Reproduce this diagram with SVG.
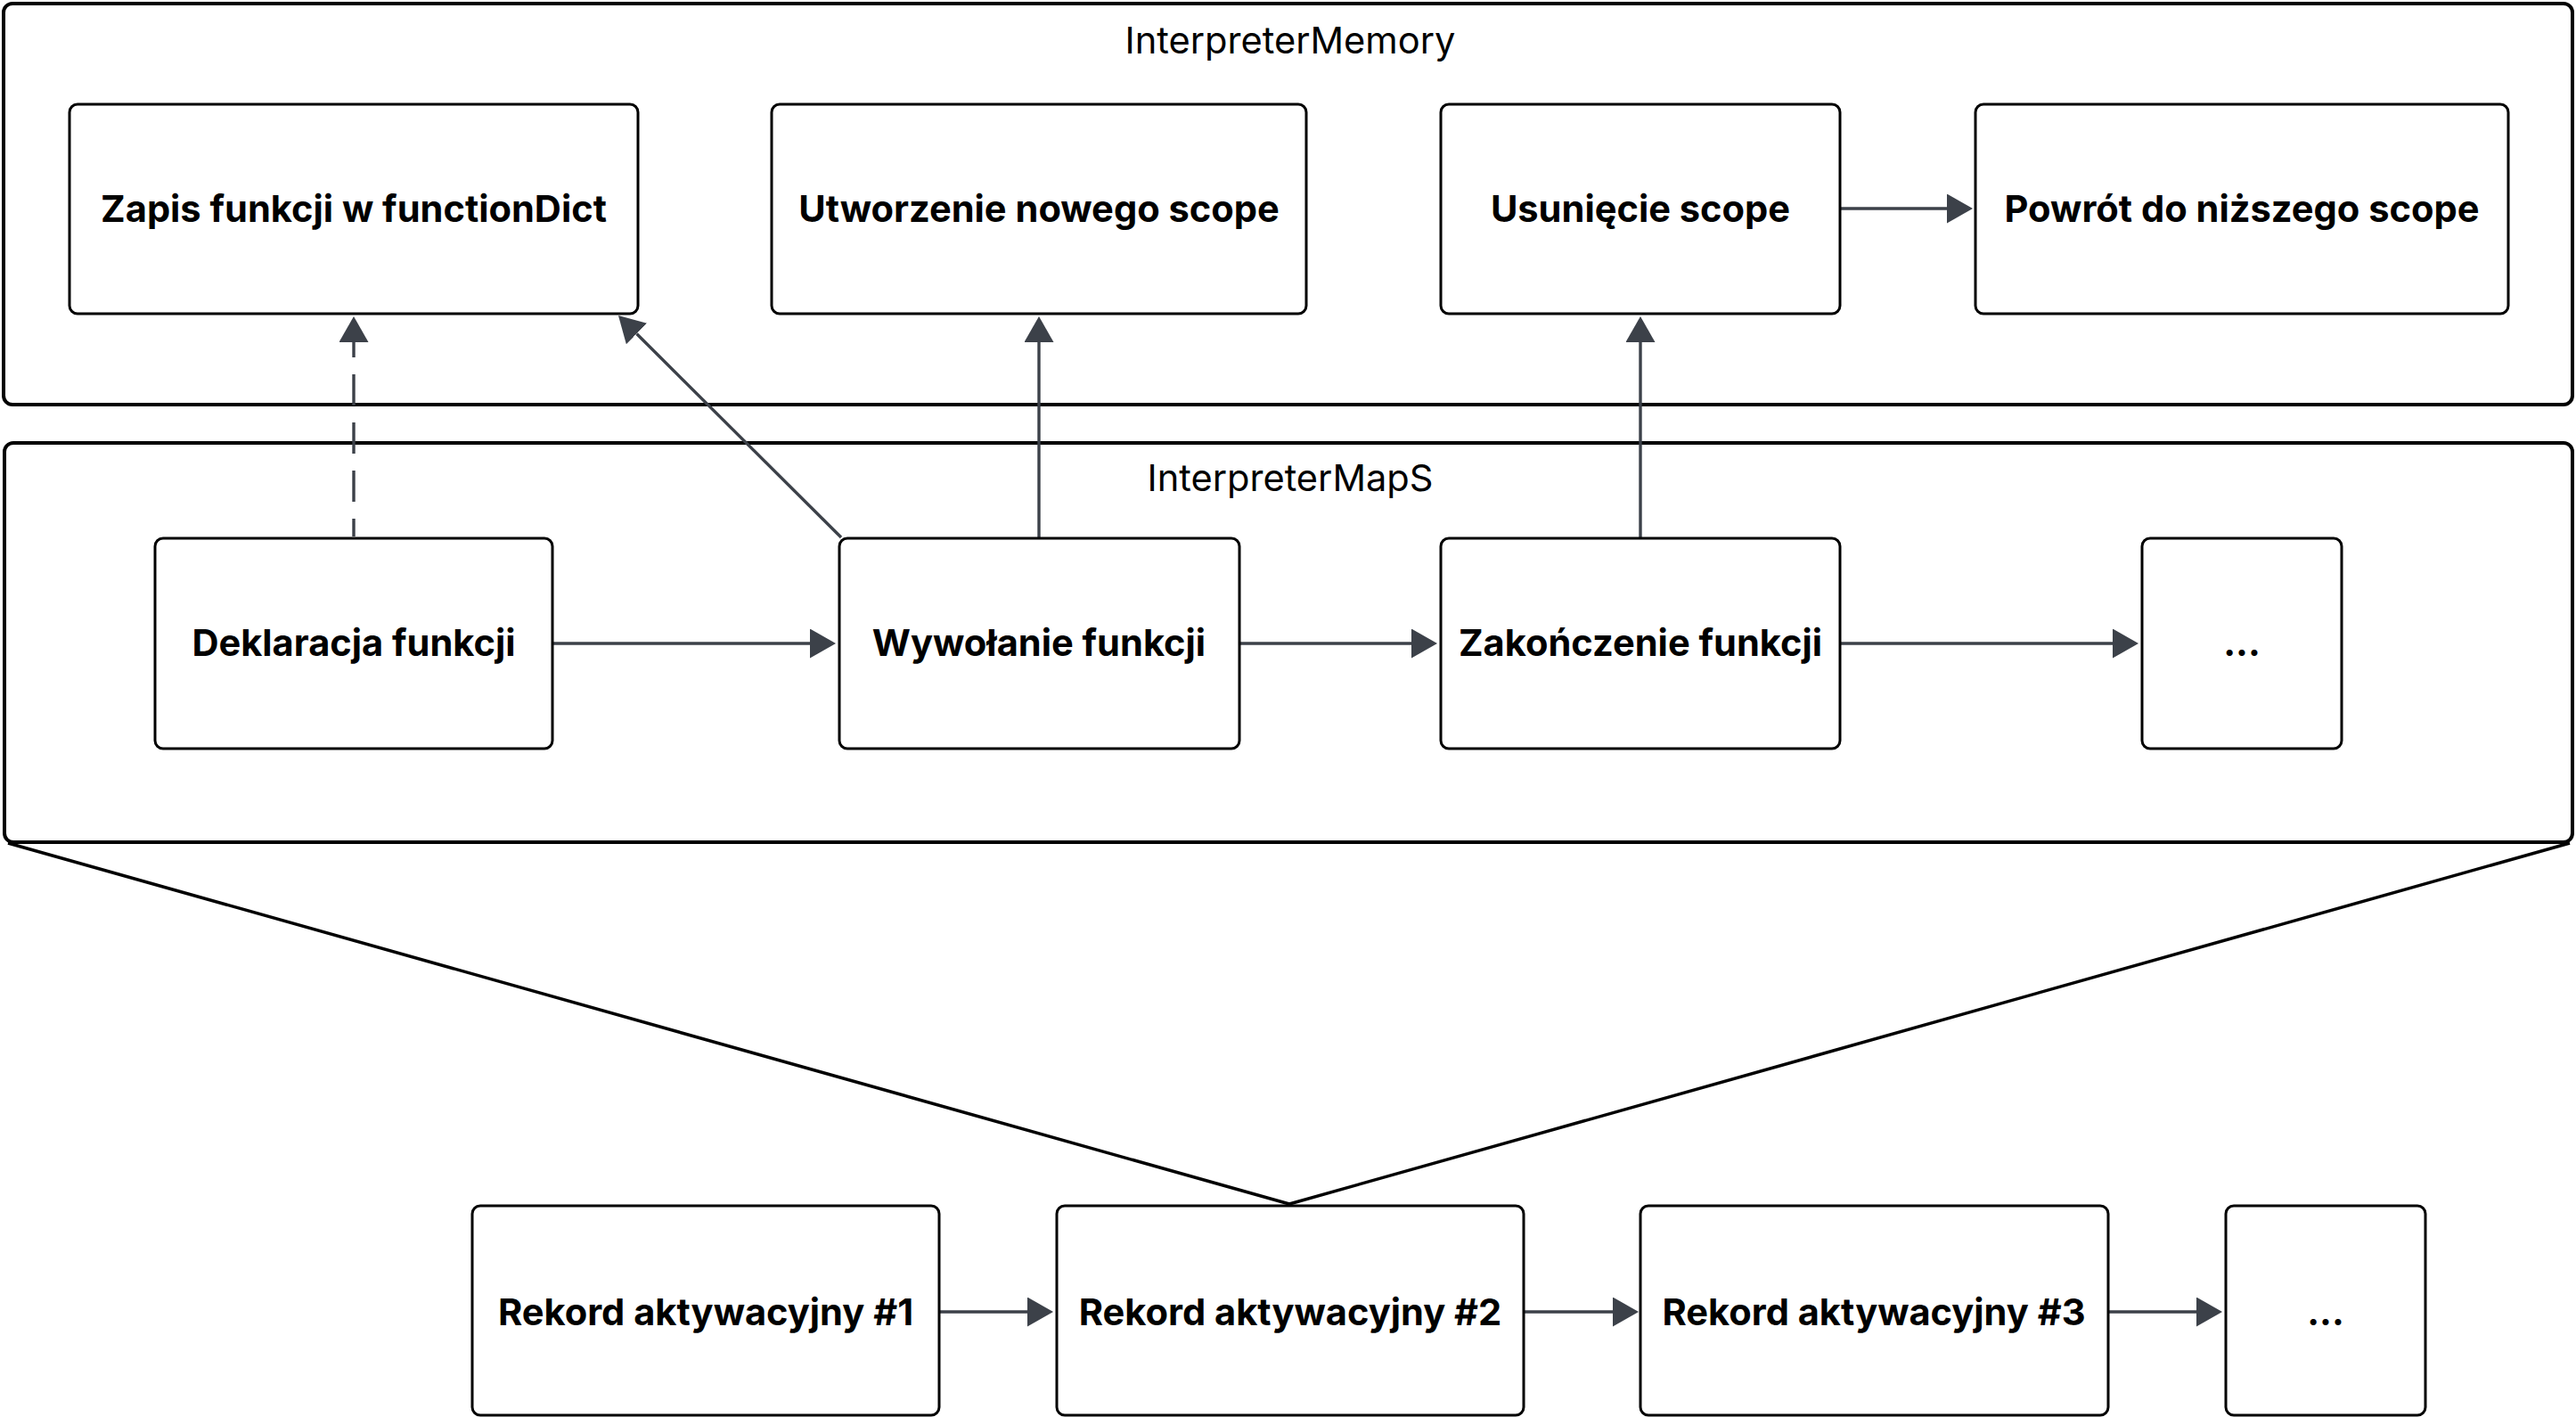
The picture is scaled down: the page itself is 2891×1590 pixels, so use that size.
<svg xmlns="http://www.w3.org/2000/svg" width="2891" height="1590" viewBox="0 0 2891 1590">
<style>
.bg{fill:#ffffff}
.container{fill:none;stroke:#000;stroke-width:4}
.node rect{fill:#fff;stroke:#000;stroke-width:3}
.node text{font-family:Inter,"Liberation Sans",sans-serif;font-weight:700;font-size:41.6px;fill:#000;text-anchor:middle}
.clabel{font-family:Inter,"Liberation Sans",sans-serif;font-weight:400;font-size:41.6px;fill:#000;text-anchor:middle}
.edge{fill:none;stroke:#3c4149;stroke-width:3.4}
.dashed{stroke-dasharray:35 19;stroke-dashoffset:15}
.fan{fill:none;stroke:#000;stroke-width:3.5;stroke-linejoin:round}
</style>
<defs>
<marker id="arr" markerUnits="userSpaceOnUse" markerWidth="30" markerHeight="34" refX="0" refY="16.5" orient="auto" viewBox="0 0 30 34">
<path d="M0,0 L29,16.5 L0,33 Z" fill="#3c4149"/>
</marker>
</defs>
<rect class="bg" x="0" y="0" width="2891" height="1590"/>

<g id="InterpreterMemory">
<rect class="container" x="4" y="4" width="2883" height="450" rx="10"/>
<text class="clabel" x="1448" y="60">InterpreterMemory</text>
</g>
<g id="InterpreterMapS">
<rect class="container" x="5" y="497" width="2882" height="448" rx="10"/>
<text class="clabel" x="1448" y="551">InterpreterMapS</text>
</g>

<g id="connectors">
<path class="edge dashed" d="M397,602 L397,384" marker-end="url(#arr)"/>
<path class="edge" d="M944,603 L714.5,374.5" marker-end="url(#arr)"/>
<path class="edge" d="M1166,604 L1166,384" marker-end="url(#arr)"/>
<path class="edge" d="M1841,604 L1841,384" marker-end="url(#arr)"/>
<path class="edge" d="M2065,234 L2185,234" marker-end="url(#arr)"/>
<path class="edge" d="M620,722 L909,722" marker-end="url(#arr)"/>
<path class="edge" d="M1391,722 L1584,722" marker-end="url(#arr)"/>
<path class="edge" d="M2065,722 L2371,722" marker-end="url(#arr)"/>
<path class="edge" d="M1054,1472 L1153,1472" marker-end="url(#arr)"/>
<path class="edge" d="M1710,1472 L1810,1472" marker-end="url(#arr)"/>
<path class="edge" d="M2366,1472 L2465,1472" marker-end="url(#arr)"/>
<path class="fan" d="M9,946 L1447,1351 L2884,946"/>
</g>

<g id="zapis" class="node"><rect x="78" y="117" width="638" height="235" rx="9"/><text x="397" y="249">Zapis funkcji w functionDict</text></g>
<g id="utworzenie" class="node"><rect x="866" y="117" width="600" height="235" rx="9"/><text x="1166" y="249">Utworzenie nowego scope</text></g>
<g id="usuniecie" class="node"><rect x="1617" y="117" width="448" height="235" rx="9"/><text x="1841" y="249">Usunięcie scope</text></g>
<g id="powrot" class="node"><rect x="2217" y="117" width="598" height="235" rx="9"/><text x="2516" y="249">Powrót do niższego scope</text></g>

<g id="deklaracja" class="node"><rect x="174" y="604" width="446" height="236" rx="9"/><text x="397" y="736">Deklaracja funkcji</text></g>
<g id="wywolanie" class="node"><rect x="942" y="604" width="449" height="236" rx="9"/><text x="1166" y="736">Wywołanie funkcji</text></g>
<g id="zakonczenie" class="node"><rect x="1617" y="604" width="448" height="236" rx="9"/><text x="1841" y="736">Zakończenie funkcji</text></g>
<g id="dots1" class="node"><rect x="2404" y="604" width="224" height="236" rx="9"/><text x="2516" y="736">...</text></g>

<g id="rekord1" class="node"><rect x="530" y="1353" width="524" height="235" rx="9"/><text x="792" y="1487">Rekord aktywacyjny #1</text></g>
<g id="rekord2" class="node"><rect x="1186" y="1353" width="524" height="235" rx="9"/><text x="1448" y="1487">Rekord aktywacyjny #2</text></g>
<g id="rekord3" class="node"><rect x="1841" y="1353" width="525" height="235" rx="9"/><text x="2103" y="1487">Rekord aktywacyjny #3</text></g>
<g id="dots2" class="node"><rect x="2498" y="1353" width="224" height="235" rx="9"/><text x="2610" y="1487">...</text></g>
</svg>
